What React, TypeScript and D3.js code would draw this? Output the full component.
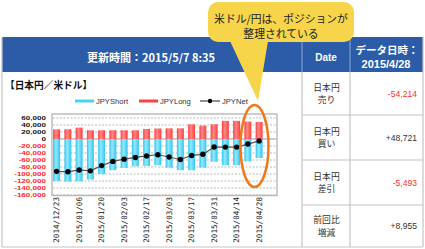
import React from "react";
import * as d3 from "d3";

const dates = [
  "2014/12/23", "2014/12/30", "2015/01/06", "2015/01/13", "2015/01/20", "2015/01/27",
  "2015/02/03", "2015/02/10", "2015/02/17", "2015/02/24", "2015/03/03", "2015/03/10",
  "2015/03/17", "2015/03/24", "2015/03/31", "2015/04/07", "2015/04/14", "2015/04/21", "2015/04/28",
];
const jpyLong = [27600, 27800, 32500, 25000, 25000, 25000, 25000, 25000, 28700, 30000, 30500, 30500, 42000, 38300, 42000, 51800, 51800, 49800, 48721];
const jpyShort = [-120000, -121500, -121000, -116000, -100700, -89000, -82500, -77700, -77000, -75000, -82000, -89000, -89000, -82000, -65000, -75000, -75000, -64200, -54214];
const jpyNet = [-92400, -93700, -88500, -91000, -76000, -64000, -57500, -52700, -48300, -45000, -51500, -58500, -47000, -43700, -23000, -23200, -23200, -14448, -5493];
const yTicks = [60000, 40000, 20000, 0, -20000, -40000, -60000, -80000, -100000, -120000, -140000, -160000];
const xLabelEvery = 2;

const rowLabels = [["日本円", "売り"], ["日本円", "買い"], ["日本円", "差引"], ["前回比", "増減"]];
const rowValues = ["-54,214", "+48,721", "-5,493", "+8,955"];

const JP = "'Noto Sans CJK JP', sans-serif";
const LAT = "'Liberation Sans', Arial, sans-serif";

export default function App() {
  const plot = { left: 52, right: 277, top: 114, bottom: 195.5 };
  const step = (plot.right - plot.left) / 20;
  const x = d3.scaleBand<string>().domain(dates).range([51, 51 + 19 * step]).paddingInner(0.38).paddingOuter(0.19);
  const y = d3.scaleLinear().domain([-160000, 60000]).range([195, 118]);
  const cx = (d: string) => (x(d) as number) + x.bandwidth() / 2;
  const line = d3.line<number>().x((_, i) => cx(dates[i])).y((v) => y(v));
  const fmt = d3.format(",");

  const rowTops = [72, 115, 160, 205, 247];
  const redFill = "url(#gRed)";
  const blueFill = "url(#gBlue)";

  return (
    <svg width={425} height={249} style={{ position: "absolute", left: 0, top: 0, background: "#fff" }}>
      <defs>
        <linearGradient id="gRed" x1="0" x2="1" y1="0" y2="0">
          <stop offset="0" stopColor="#ff3c3c" />
          <stop offset="0.4" stopColor="#ff8a8a" />
          <stop offset="1" stopColor="#ff3c3c" />
        </linearGradient>
        <linearGradient id="gBlue" x1="0" x2="1" y1="0" y2="0">
          <stop offset="0" stopColor="#2ec7ef" />
          <stop offset="0.4" stopColor="#95e8fc" />
          <stop offset="1" stopColor="#2ec7ef" />
        </linearGradient>
      </defs>

      {/* header */}
      <rect x={2} y={37} width={421} height={35} fill="#2c5ca8" />
      <line x1={302} x2={302} y1={37} y2={72} stroke="#8fa8d4" strokeWidth={1} />
      <line x1={350} x2={350} y1={37} y2={72} stroke="#8fa8d4" strokeWidth={1} />
      <text x={151} y={57} fill="#fff" fontFamily={JP} fontWeight="bold" fontSize={11} textAnchor="middle" dominantBaseline="central">更新時間：2015/5/7 8:35</text>
      <text x={326} y={57} fill="#fff" fontFamily={LAT} fontWeight="bold" fontSize={10} textAnchor="middle" dominantBaseline="central">Date</text>
      <text x={387} y={49} fill="#fff" fontFamily={JP} fontWeight="bold" fontSize={10.5} textAnchor="middle" dominantBaseline="central">データ日時：</text>
      <text x={386} y={64} fill="#fff" fontFamily={LAT} fontWeight="bold" fontSize={11} textAnchor="middle" dominantBaseline="central">2015/4/28</text>

      {/* frame and table */}
      <g stroke="#c4c4c4" strokeWidth={1.2} fill="none">
        <line x1={2} x2={2} y1={37} y2={247} />
        <line x1={2} x2={423} y1={247} y2={247} />
        <line x1={302} x2={302} y1={72} y2={247} />
        <line x1={350} x2={350} y1={72} y2={247} />
        <line x1={423} x2={423} y1={37} y2={247} />
        {rowTops.slice(1, 4).map((t) => (
          <line key={t} x1={302} x2={423} y1={t} y2={t} />
        ))}
      </g>
      {rowLabels.map((lab, i) => {
        const mid = (rowTops[i] + rowTops[i + 1]) / 2;
        return (
          <g key={i}>
            <text x={326.5} y={mid - 6.4} fontFamily={JP} fontSize={8.8} fill="#333" textAnchor="middle" dominantBaseline="central">{lab[0]}</text>
            <text x={326.5} y={mid + 6.4} fontFamily={JP} fontSize={8.8} fill="#333" textAnchor="middle" dominantBaseline="central">{lab[1]}</text>
            <text x={417} y={mid} fontFamily={LAT} fontSize={8.6} fill={rowValues[i].startsWith("-") ? "#ff2a2a" : "#333"} textAnchor="end" dominantBaseline="central">{rowValues[i]}</text>
          </g>
        );
      })}

      {/* chart title and legend */}
      <text x={5} y={85} fontFamily={JP} fontWeight="bold" fontSize={9.7} fill="#111" dominantBaseline="central">【日本円／米ドル】</text>
      <g fontFamily={LAT} fontSize={7.6} fill="#333">
        <line x1={75} x2={94} y1={101} y2={101} stroke="#45d2f5" strokeWidth={3} />
        <text x={96} y={101} dominantBaseline="central">JPYShort</text>
        <line x1={139} x2={158} y1={101} y2={101} stroke="#ff4040" strokeWidth={3} />
        <text x={160} y={101} dominantBaseline="central">JPYLong</text>
        <line x1={200} x2={220} y1={101} y2={101} stroke="#222" strokeWidth={1} />
        <circle cx={210} cy={101} r={2.2} fill="#000" />
        <text x={222} y={101} dominantBaseline="central">JPYNet</text>
      </g>

      {/* plot */}
      <rect x={plot.left} y={plot.top} width={plot.right - plot.left} height={plot.bottom - plot.top} fill="#fff" stroke="#bdbdbd" strokeWidth={1.5} />
      {yTicks.map((t) => (
        <line key={t} x1={plot.left + 1} x2={plot.right - 1} y1={y(t)} y2={y(t)} stroke={t === 0 ? "#999" : "#aaa"} strokeWidth={t === 0 ? 1 : 0.8} strokeDasharray={t === 0 ? undefined : "2,1.5"} />
      ))}
      {yTicks.map((t) => (
        <text key={"l" + t} transform={`translate(46,${y(t)}) scale(1.3,1)`} fontFamily={LAT} fontWeight="bold" fontSize={6.2} fill={t < 0 ? "#ff2424" : "#111"} textAnchor="end" dominantBaseline="central">{fmt(t).replace("−", "-")}</text>
      ))}
      {dates.map((d, i) => (
        <rect key={"s" + d} x={x(d)} y={y(0)} width={x.bandwidth()} height={y(jpyShort[i]) - y(0)} fill={blueFill} />
      ))}
      {dates.map((d, i) => (
        <rect key={"L" + d} x={x(d)} y={y(jpyLong[i])} width={x.bandwidth()} height={y(0) - y(jpyLong[i])} fill={redFill} />
      ))}
      <path d={line(jpyNet) || ""} fill="none" stroke="#555" strokeWidth={1.2} />
      {dates.map((d, i) => (
        <circle key={"n" + d} cx={cx(d)} cy={y(jpyNet[i])} r={2.7} fill="#000" />
      ))}
      {dates.map((d, i) =>
        i % xLabelEvery === 0 ? (
          <text key={"x" + d} transform={`translate(${cx(d) + 2.8},197) rotate(-90)`} fontFamily="'DejaVu Sans Mono', monospace" fontSize={7.6} fill="#222" textAnchor="end">{d}</text>
        ) : null
      )}

      {/* annotation */}
      <ellipse cx={254.5} cy={146} rx={14} ry={41} fill="none" stroke="#f07818" strokeWidth={2.5} />
      <path d="M230,41 L258,101 L268,41 Z" fill="#f6d54b" />
      <rect x={208} y={2} width={146} height={40} rx={10} ry={10} fill="#f6d54b" />
      <text x={281} y={18} fontFamily={JP} fontSize={10.8} fill="#222" textAnchor="middle" dominantBaseline="central">米ドル/円は、ポジションが</text>
      <text x={281} y={33} fontFamily={JP} fontSize={10.8} fill="#222" textAnchor="middle" dominantBaseline="central">整理されている</text>
    </svg>
  );
}
